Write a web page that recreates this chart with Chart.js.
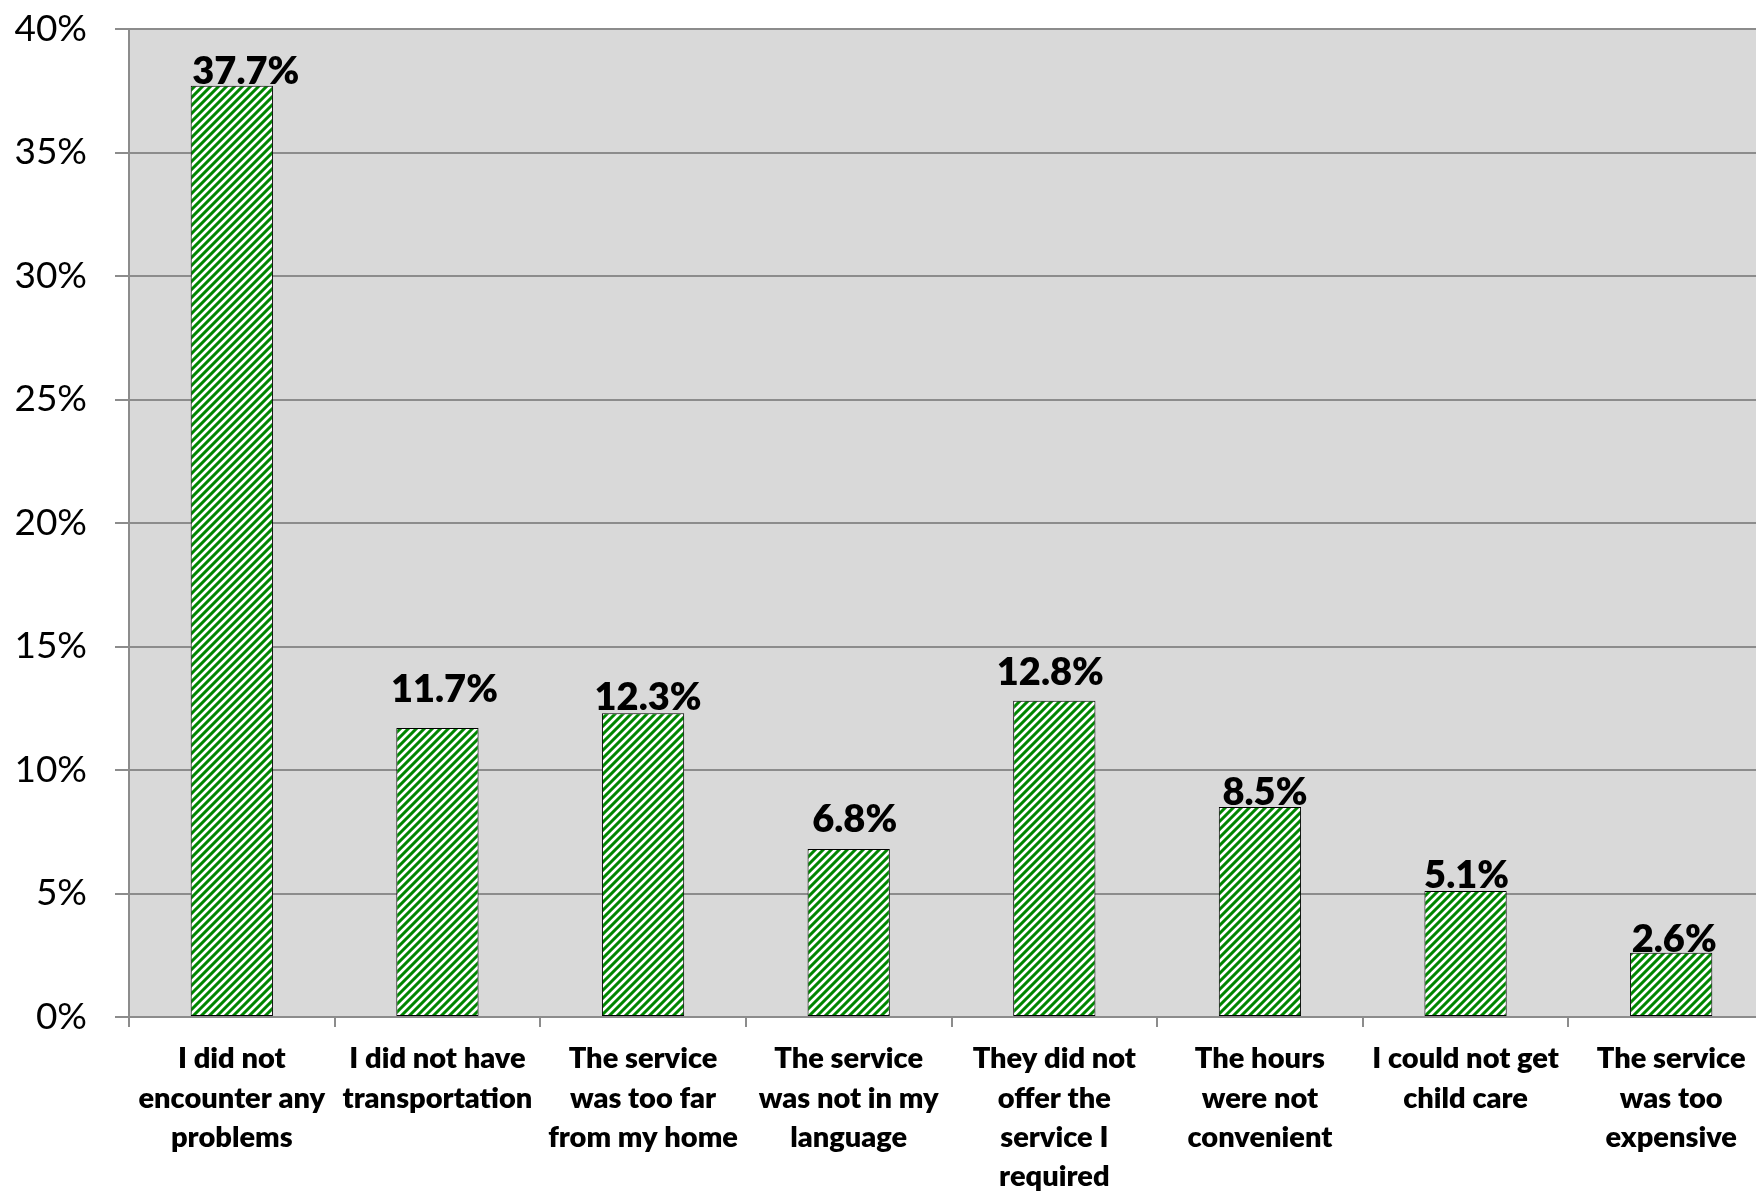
<!DOCTYPE html>
<html>
<head>
<meta charset="utf-8">
<script src="https://cdn.jsdelivr.net/npm/chart.js@4.4.1/dist/chart.umd.min.js"></script>
<style>
  html, body { margin: 0; padding: 0; background: #fff; overflow: hidden; }
  #wrap { width: 1774px; height: 1191px; position: relative; }
</style>
</head>
<body>
<div id="wrap"><canvas id="chartProblemas"></canvas></div>
<script>
const categorias = [
    ['I did not', 'encounter any', 'problems'],
    ['I did not have', 'transportation'],
    ['The service', 'was too far', 'from my home'],
    ['The service', 'was not in my', 'language'],
    ['They did not', 'offer the', 'service I', 'required'],
    ['The hours', 'were not', 'convenient'],
    ['I could not get', 'child care'],
    ['The service', 'was too', 'expensive']
]
const porcentajes = [37.7, 11.7, 12.3, 6.8, 12.8, 8.5, 5.1, 2.6]
const ticksY = [0, 5, 10, 15, 20, 25, 30, 35, 40]

// striped fill like the excel "wide upward diagonal" pattern
const crearPatron = () => {
    const size = 8
    const c = document.createElement('canvas')
    c.width = size
    c.height = size
    const ctx = c.getContext('2d')
    const img = ctx.createImageData(size, size)
    for (let y = 0; y < size; y++) {
        for (let x = 0; x < size; x++) {
            const t = Math.cos(2 * Math.PI * (x + y) / size)
            const f = Math.max(0, Math.min(1, 0.6 + 1.2 * t))
            const i = (y * size + x) * 4
            img.data[i] = Math.round(255 * (1 - f) + 0 * f)
            img.data[i + 1] = Math.round(255 * (1 - f) + 135 * f)
            img.data[i + 2] = Math.round(255 * (1 - f) + 0 * f)
            img.data[i + 3] = 255
        }
    }
    ctx.putImageData(img, 0, 0)
    return ctx.createPattern(c, 'repeat')
}

// labels sit on top of the bars, some were nudged up in the original
const labelLift = [2, 26, 3, 17, 16, 2, 3, 1]
const labelShift = [14, 7, 5, 6, -4, 5, 1, 3]

const fondoPlot = {
    id: 'fondoPlot',
    beforeDraw(chart) {
        const { ctx, chartArea } = chart
        ctx.save()
        ctx.fillStyle = '#d9d9d9'
        ctx.fillRect(chartArea.left, chartArea.top, chartArea.right - chartArea.left, chartArea.bottom - chartArea.top)
        ctx.restore()
    }
}

const etiquetas = {
    id: 'etiquetas',
    afterDatasetsDraw(chart) {
        const { ctx } = chart
        const meta = chart.getDatasetMeta(0)
        ctx.save()
        ctx.font = '800 38px Lato'
        ctx.fillStyle = '#000'
        ctx.textAlign = 'center'
        ctx.textBaseline = 'alphabetic'
        meta.data.forEach((bar, i) => {
            const txt = porcentajes[i].toFixed(1) + '%'
            ctx.fillText(txt, bar.x + labelShift[i], bar.y - labelLift[i])
        })
        ctx.restore()
    }
}

const canvas = document.getElementById('chartProblemas')
const context = canvas.getContext('2d')

const chartProblemas = new Chart(context, {
    type: 'bar',
    data: {
        labels: categorias,
        datasets: [
            {
                label: 'Problemas',
                data: porcentajes,
                backgroundColor: crearPatron(),
                borderColor: '#000',
                borderWidth: 1,
                borderSkipped: false,
                barPercentage: 0.4,
                categoryPercentage: 1
            }
        ]
    },
    options: {
        responsive: true,
        maintainAspectRatio: false,
        animation: false,
        layout: { padding: { top: 29, left: 0, right: 0, bottom: 0 } },
        plugins: {
            legend: { display: false },
            tooltip: { enabled: false }
        },
        scales: {
            x: {
                offset: true,
                grid: {
                    offset: true,
                    drawOnChartArea: false,
                    drawTicks: true,
                    tickLength: 10,
                    color: '#8c8c8c',
                    lineWidth: 2
                },
                border: { color: '#8c8c8c', width: 2 },
                ticks: {
                    color: '#000',
                    padding: 12,
                    maxRotation: 0,
                    autoSkip: false,
                    font: { family: 'Lato', size: 29, weight: 800, lineHeight: 1.36 }
                },
                afterFit(scale) {
                    scale.height = 174
                    scale.paddingTop = 0
                }
            },
            y: {
                min: 0,
                max: 40,
                afterBuildTicks(scale) {
                    scale.ticks = ticksY.map(v => ({ value: v }))
                },
                grid: {
                    color: '#8c8c8c',
                    lineWidth: 2,
                    tickLength: 14
                },
                border: { color: '#8c8c8c', width: 2 },
                ticks: {
                    color: '#000',
                    padding: 28,
                    font: { family: 'Lato', size: 37 },
                    callback: v => v + '%'
                },
                afterFit(scale) {
                    scale.width = 129
                    scale.paddingTop = 0
                    scale.paddingBottom = 0
                }
            }
        }
    },
    plugins: [fondoPlot, etiquetas]
})
</script>
</body>
</html>
